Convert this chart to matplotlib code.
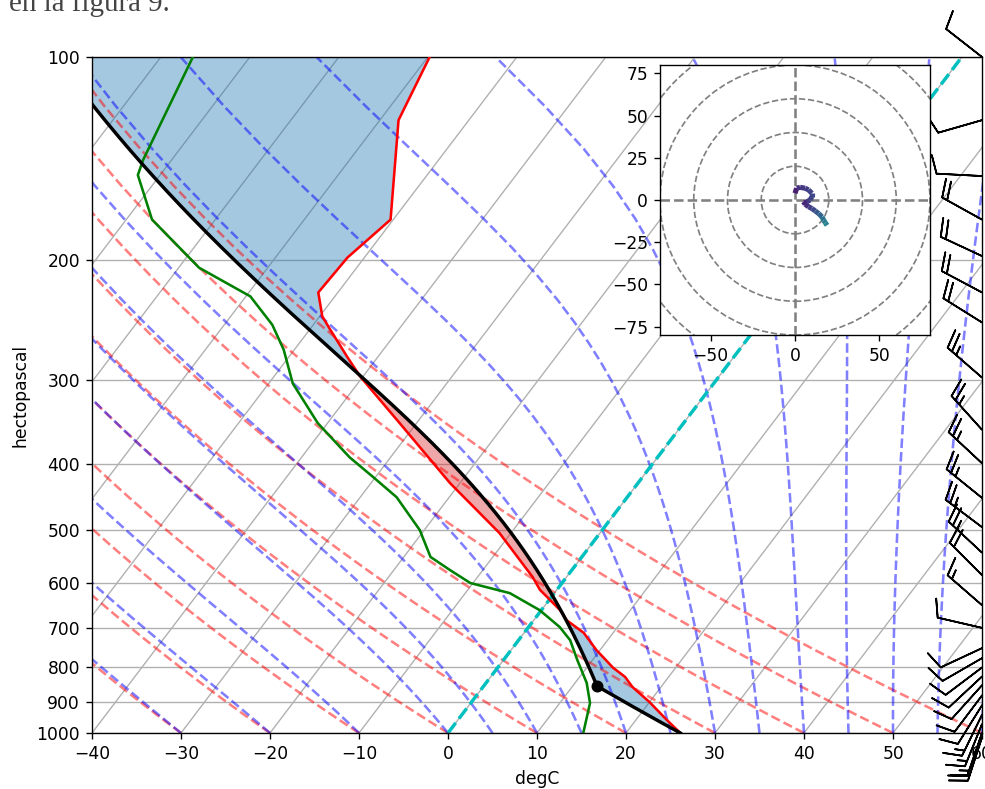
import numpy as np
import matplotlib
matplotlib.use("Agg")
import matplotlib.pyplot as plt
import matplotlib.transforms as mtransforms
from matplotlib.collections import LineCollection
from matplotlib.patches import Circle
from matplotlib.ticker import ScalarFormatter, NullLocator

# ---------------- data ----------------
pressure = [1000, 957, 900, 855, 826, 801, 754, 711, 681, 658, 629, 614, 588,
            506, 427, 348, 297, 278, 253, 242, 223, 198, 174, 124, 100]
temperature = [26.1, 23.5, 20.0, 16.8, 15.1, 13.0, 9.6, 6.7, 3.7, 2.1, -0.5, -1.9, -3.8,
               -11.3, -21.1, -31.9, -40.3, -43.4, -47.7, -49.7, -52.2, -51.9, -50.3, -57.9, -59.8]

dew_pressure = [1000, 903, 843, 780, 729, 697, 658, 621, 600, 574, 549, 501, 448,
                418, 391, 348, 304, 271, 249, 226, 205, 174, 149.5, 142, 100]
dewpoint = [15.2, 13.4, 11.3, 8.3, 5.8, 3.5, -0.2, -5.0, -10.3, -13.7, -17.0, -20.5, -25.9,
            -30.3, -34.6, -41.1, -47.3, -51.2, -54.6, -59.5, -67.7, -77.1, -82.5, -83.2, -86.4]

barb_pressure = [100, 124, 150, 174, 197, 223, 247, 298, 356, 399, 449, 496, 541, 584,
                 647, 699, 749, 775, 800, 825, 850, 880, 910, 940, 970, 1000, 1015]
barb_direction = [308, 254, 273, 299, 295, 298, 302, 311, 318, 313, 309, 307, 313, 315,
                  311, 283, 245, 240, 233, 227, 222, 217, 212, 206, 202, 199, 198]
barb_speed = [10, 10, 10, 20, 20, 20, 20, 25, 25, 25, 25, 25, 25, 20,
              15, 10, 10, 10, 10, 10, 10, 10, 10, 15, 15, 15, 20]

hodo_u = [0, 1, 3, 6, 8, 10, 10, 9, 7, 5, 6, 8, 10, 12, 14, 16, 17, 18, 19]
hodo_v = [4, 7, 7.5, 7, 6, 4, 2, 0, -1, -1, -2.5, -4, -5, -6.5, -8, -10, -12, -13.5, -15]

x_ticks = list(range(-40, 61, 10))
y_ticks = list(range(100, 1001, 100))
hodo_xticks = [-50, 0, 50]
hodo_yticks = [-75, -50, -25, 0, 25, 50, 75]
hodo_rings = [20, 40, 60, 80, 100]
dry_t0 = list(range(-40, 61, 10))
moist_t0 = [-40, -30, -20, -10] + list(range(0, 61, 5))
isotherm_t = list(range(-100, 61, 10))
caption = "en la figura 9."

# ---------------- physics (as MetPy does) ----------------
Rd = 287.04749
Cp = 1004.6662
Lv = 2.50084e6
eps = 0.62196
kappa = Rd / Cp


def sat_vp(tk):
    return 6.112 * np.exp(17.67 * (tk - 273.15) / (tk - 29.65))


def sat_mr(p, tk):
    e = sat_vp(tk)
    return eps * e / (p - e)


def dtdp(p, tk):
    r = sat_mr(p, tk)
    return (Rd * tk + Lv * r) / (Cp + Lv * Lv * r * eps / (Rd * tk * tk)) / p


def moist_lapse(levels, t0k, p0):
    t = np.array(t0k, dtype=float)
    p = float(p0)
    out = []
    for pl in levels:
        n = max(1, int(abs(pl - p) / 2.0) + 1)
        h = (pl - p) / n
        for _ in range(n):
            k1 = dtdp(p, t)
            k2 = dtdp(p + h / 2, t + h / 2 * k1)
            k3 = dtdp(p + h / 2, t + h / 2 * k2)
            k4 = dtdp(p + h, t + h * k3)
            t = t + h / 6 * (k1 + 2 * k2 + 2 * k3 + k4)
            p = p + h
        out.append(t.copy())
    return np.array(out)


SKEW = 100 * np.tan(np.deg2rad(30)) / np.log10(1000 / 100)


def skx(t, p):
    return np.asarray(t, float) + SKEW * np.log10(1000.0 / np.asarray(p, float))


# parcel profile from the surface values
p0 = pressure[0]
T0 = temperature[0] + 273.15
Td0 = dewpoint[0] + 273.15
w0 = sat_mr(p0, Td0)


def td_from_w(p, w):
    e = p * w / (eps + w)
    lg = np.log(e / 6.112)
    return 243.5 * lg / (17.67 - lg) + 273.15


lo, hi = 300.0, float(p0)
for _ in range(80):
    mid = 0.5 * (lo + hi)
    if T0 * (mid / p0) ** kappa - td_from_w(mid, w0) > 0:
        hi = mid
    else:
        lo = mid
p_lcl = 0.5 * (lo + hi)
T_lcl = T0 * (p_lcl / p0) ** kappa

p_f = np.geomspace(p0, 100, 500)
prof = np.empty_like(p_f)
below = p_f >= p_lcl
prof[below] = T0 * (p_f[below] / p0) ** kappa
prof[~below] = moist_lapse(p_f[~below], T_lcl, p_lcl)
prof_c = prof - 273.15
T_f = np.interp(-np.log(p_f), -np.log(np.array(pressure, float)), temperature)

# ---------------- figure ----------------
DPI = 123
W, H = 986, 789
fig = plt.figure(figsize=(W / DPI, H / DPI), dpi=DPI)
ax = fig.add_axes([92 / W, (H - 733) / H, 890 / W, 676 / H])
ax.set_yscale('log')

# isotherm grid
for t in isotherm_t:
    ax.plot(skx([t, t], [1000, 100]), [1000, 100], color='#b0b0b0', lw=0.8, zorder=0.5)
ax.yaxis.grid(True, color='#b0b0b0', lw=0.8)
ax.set_axisbelow(True)

# dry adiabats
p_bg = np.linspace(1000, 100, 50)
segs = []
for t in dry_t0:
    tt = (t + 273.15) * (p_bg / 1000.0) ** kappa - 273.15
    segs.append(np.column_stack([skx(tt, p_bg), p_bg]))
ax.add_collection(LineCollection(segs, colors='r', linestyles='dashed', alpha=0.5,
                                 linewidths=1.5, zorder=1.1))

# moist adiabats
moist = moist_lapse(p_bg, np.array(moist_t0, float) + 273.15, 1000.0) - 273.15
segs = [np.column_stack([skx(moist[:, i], p_bg), p_bg]) for i in range(len(moist_t0))]
ax.add_collection(LineCollection(segs, colors='b', linestyles='dashed', alpha=0.5,
                                 linewidths=1.5, zorder=1.1))

# CAPE / CIN shading
x_env = skx(T_f, p_f)
x_par = skx(prof_c, p_f)
ax.fill_betweenx(p_f, x_env, x_par, where=prof_c > T_f, interpolate=True,
                 facecolor='tab:red', alpha=0.4, linewidth=0, zorder=1)
ax.fill_betweenx(p_f, x_env, x_par, where=prof_c < T_f, interpolate=True,
                 facecolor='tab:blue', alpha=0.4, linewidth=0, zorder=1)

# profiles
ax.plot(skx(temperature, pressure), pressure, 'r', lw=1.5, zorder=3)
ax.plot(skx(dewpoint, dew_pressure), dew_pressure, 'g', lw=1.5, zorder=3)
ax.plot(skx(prof_c, p_f), p_f, 'k', lw=2, zorder=3)
ax.plot(skx(T_lcl - 273.15, p_lcl), p_lcl, 'ko', markerfacecolor='black', zorder=4)
ax.plot(skx([0, 0], [1000, 100]), [1000, 100], color='c', ls='--', lw=2, zorder=2)

# wind barbs on the right edge
trans = mtransforms.blended_transform_factory(ax.transAxes, ax.transData)
d = np.deg2rad(barb_direction)
s = np.array(barb_speed, float)
bu = -s * np.sin(d)
bv = -s * np.cos(d)
ax.barbs(np.ones(len(barb_pressure)), barb_pressure, bu, bv, transform=trans,
         clip_on=False, length=7.3, zorder=5)

ax.set_xlim(-40, 60)
ax.set_ylim(1000, 100)
ax.set_xticks(x_ticks)
ax.set_yticks(y_ticks)
ax.yaxis.set_major_formatter(ScalarFormatter())
ax.yaxis.set_minor_locator(NullLocator())
ax.set_xlabel('degC')
ax.set_ylabel('hectopascal')

# hodograph inset
axh = fig.add_axes([659 / W, (H - 335) / H, 272 / W, 270 / H])
axh.set_xlim(-80, 80)
axh.set_ylim(-80, 80)
axh.set_aspect('equal', 'box')
for r in hodo_rings:
    axh.add_patch(Circle((0, 0), r, edgecolor='grey', fill=False, linestyle='dashed'))
axh.axvline(0, color='grey', linestyle='dashed')
axh.axhline(0, color='grey', linestyle='dashed')
pts = np.column_stack([hodo_u, hodo_v])
hsegs = np.stack([pts[:-1], pts[1:]], axis=1)
hspeed = np.hypot(hodo_u, hodo_v)
lc = LineCollection(hsegs, cmap='viridis', norm=plt.Normalize(0, 50), linewidths=3)
lc.set_array(hspeed[:-1])
axh.add_collection(lc)
axh.set_xticks(hodo_xticks)
axh.set_yticks(hodo_yticks)

fig.text(9 / W, 1 - 11 / H, caption, fontsize=17, family='Liberation Serif',
         color='#444444', va='baseline')

fig.savefig('out.png', dpi=DPI)
